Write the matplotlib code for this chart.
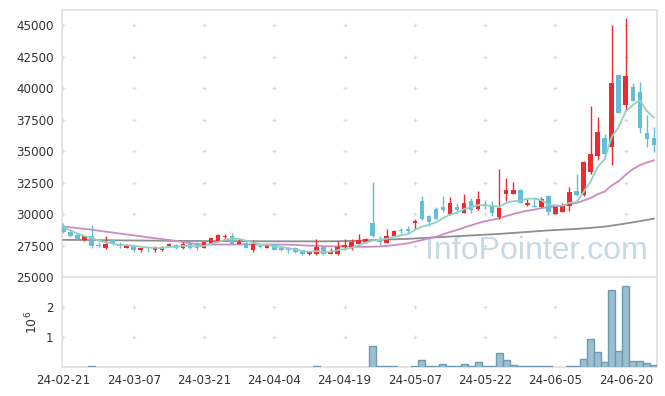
import matplotlib
matplotlib.use("Agg")
import matplotlib.pyplot as plt
import numpy as np
import pandas as pd

# trading days (KRX holidays skipped)
holidays = ["2024-03-01", "2024-04-10", "2024-05-01", "2024-05-06",
            "2024-05-15", "2024-06-06"]
dates = pd.bdate_range("2024-02-21", "2024-06-26", freq="C", holidays=holidays)

opens = [29050, 28575, 28340, 27900, 28235, 27540, 27280, 27920, 27650, 27330,
         27490, 27120, 27330, 27120, 27120, 27440, 27540, 27280, 27650, 27600,
         27330, 27650, 27860, 28180, 28280, 27650, 27700, 27120, 27490, 27330,
         27600, 27330, 27280, 27330, 27120, 26800, 26790, 27360, 26850, 26790,
         27410, 27380, 27620, 27780, 29310, 28000, 27730, 28230, 28730, 28790,
         29270, 31060, 29850, 30380, 30590, 30030, 30590, 30110, 31020, 30430,
         30750, 30700, 29790, 31600, 31600, 31910, 30700, 30640, 30590, 31440,
         30030, 30190, 30640, 31860, 31540, 33350, 34620, 36050, 35350, 41030,
         38690, 40070, 39700, 36420, 36050]
closes = [28540, 28260, 28020, 28235, 27490, 27440, 27600, 27600, 27490, 27540,
          27120, 27280, 27280, 27380, 27380, 27650, 27280, 27650, 27330, 27330,
          27760, 28080, 28340, 28280, 27650, 27810, 27330, 27650, 27380, 27600,
          27170, 27120, 27170, 26960, 26800, 27010, 27360, 26830, 27010, 27420,
          27520, 27780, 27940, 28000, 28220, 27760, 28260, 28680, 28630, 28680,
          29430, 29590, 29370, 29630, 30320, 30840, 30320, 30840, 30350, 31220,
          30700, 30110, 30480, 31910, 31910, 30900, 30860, 30590, 31220, 30170,
          30590, 30700, 31750, 31540, 34140, 34770, 36520, 34770, 40390, 38060,
          40970, 39010, 36840, 35990, 35510]
highs = [29290, 28695, 28420, 28260, 29150, 27760, 28230, 27960, 27760, 27600,
         27540, 27300, 27380, 27440, 27490, 27700, 27600, 27760, 27760, 27760,
         27780, 28100, 28380, 28440, 28500, 28020, 27920, 27920, 27650, 27650,
         27620, 27360, 27380, 27380, 27150, 27040, 28000, 27380, 27330, 27860,
         28000, 28040, 28420, 28100, 32550, 28260, 28790, 28700, 28890, 29050,
         29630, 31440, 29900, 30590, 31440, 31330, 30860, 31600, 31280, 31810,
         31120, 31020, 33560, 32870, 32550, 31970, 31220, 31280, 31330, 31490,
         30640, 30900, 32180, 33190, 34190, 38590, 37740, 36360, 45000, 41130,
         45530, 40400, 40500, 37850, 36940]
lows = [28500, 28180, 27900, 27860, 27280, 27380, 27220, 27540, 27280, 27280,
        26960, 27010, 27010, 26960, 27070, 27380, 27220, 27220, 27220, 27170,
        27300, 27620, 27840, 27960, 27620, 27620, 27300, 27010, 27280, 27280,
        27150, 27090, 26910, 26910, 26770, 26770, 26770, 26750, 26830, 26750,
        27150, 27150, 27580, 27700, 28180, 27520, 27700, 28220, 28470, 28520,
        28840, 29530, 29050, 29610, 30140, 29900, 30110, 30060, 30060, 30320,
        30430, 29850, 29590, 31060, 31560, 30880, 30670, 30590, 30540, 29950,
        30010, 30160, 30250, 31430, 31430, 33190, 34300, 34460, 33880, 38030,
        38270, 38950, 36420, 35350, 34930]
volumes = [0, 0, 0, 0, 20000, 0, 0, 0, 0, 0,
           0, 0, 0, 0, 0, 0, 0, 0, 0, 0,
           0, 0, 0, 0, 0, 0, 0, 0, 0, 0,
           0, 0, 0, 0, 0, 0, 20000, 0, 0, 0,
           0, 0, 0, 0, 690000, 20000, 20000, 20000, 0, 0,
           20000, 220000, 20000, 50000, 110000, 50000, 20000, 110000, 50000, 160000,
           20000, 20000, 460000, 220000, 80000, 20000, 20000, 20000, 20000, 20000,
           0, 0, 20000, 20000, 260000, 950000, 490000, 160000, 2580000, 520000,
           2690000, 190000, 190000, 120000, 60000]

ma5 = [28950, 28700, 28450, 28250, 28109, 27889, 27757, 27673, 27524, 27534,
       27470, 27406, 27342, 27320, 27288, 27394, 27394, 27468, 27458, 27448,
       27470, 27630, 27768, 27958, 28022, 28032, 27882, 27744, 27564, 27554,
       27426, 27384, 27288, 27204, 27044, 27012, 27060, 26992, 27002, 27126,
       27228, 27312, 27534, 27732, 27892, 27940, 28036, 28184, 28310, 28402,
       28736, 29002, 29140, 29340, 29668, 29950, 30096, 30390, 30534, 30714,
       30686, 30644, 30572, 30884, 31022, 31062, 31212, 31234, 31096, 30748,
       30686, 30654, 30886, 30950, 31744, 32580, 33744, 34348, 36118, 36902,
       38142, 38640, 39054, 38174, 37664]
ma20 = [29000, 28950, 28880, 28820, 28760, 28680, 28600, 28530, 28450, 28380,
        28310, 28230, 28150, 28080, 28010, 27940, 27860, 27780, 27690, 27620,
        27590, 27580, 27580, 27580, 27580, 27590, 27580, 27580, 27575, 27578,
        27581, 27573, 27567, 27546, 27517, 27485, 27489, 27448, 27432, 27437,
        27425, 27410, 27400, 27390, 27410, 27420, 27470, 27530, 27600, 27670,
        27800, 27930, 28060, 28200, 28380, 28570, 28730, 28930, 29100, 29280,
        29430, 29540, 29660, 29840, 30000, 30140, 30260, 30350, 30470, 30540,
        30600, 30660, 30780, 30880, 31070, 31270, 31580, 31780, 32270, 32610,
        33120, 33560, 33880, 34090, 34270]
ma60 = [27950, 27945, 27940, 27935, 27930, 27925, 27920, 27915, 27910, 27905,
        27900, 27895, 27890, 27885, 27880, 27875, 27870, 27865, 27860, 27858,
        27855, 27852, 27850, 27848, 27846, 27844, 27842, 27840, 27838, 27836,
        27835, 27834, 27833, 27832, 27831, 27830, 27830, 27832, 27835, 27840,
        27850, 27865, 27880, 27900, 27930, 27950, 27970, 27990, 28010, 28030,
        28060, 28090, 28120, 28150, 28180, 28210, 28240, 28270, 28300, 28330,
        28360, 28390, 28420, 28460, 28500, 28540, 28580, 28620, 28660, 28700,
        28730, 28760, 28790, 28820, 28860, 28900, 28950, 29000, 29080, 29160,
        29250, 29340, 29430, 29530, 29630]

price_ticks = [25000, 27500, 30000, 32500, 35000, 37500, 40000, 42500, 45000]
vol_ticks = [1, 2]

UP = "#ec2b30"
DOWN = "#66bdd8"
GRID = "#dcdcdc"
SPINE = "#e4e4e4"
TEXT = "#333333"

plt.rcParams["font.family"] = ["DejaVu Sans"]

o = np.array(opens, dtype=float)
c = np.array(closes, dtype=float)
h = np.array(highs, dtype=float)
l = np.array(lows, dtype=float)
v = np.array(volumes, dtype=float) / 1e6
x = np.arange(len(dates))
up = c >= o
colors = np.where(up, UP, DOWN)

fig = plt.figure(figsize=(6.65, 3.96), dpi=100)
ax = fig.add_axes([62 / 665, 1 - 277 / 396, 595 / 665, 267 / 396])
axv = fig.add_axes([62 / 665, 1 - 367 / 396, 595 / 665, 90 / 396], sharex=ax)

tick_idx = x[::10]

# grid crosses
gx, gy = np.meshgrid(tick_idx, price_ticks)
ax.scatter(gx.ravel(), gy.ravel(), marker="+", s=12, c=GRID, lw=0.8, zorder=0)
gx, gy = np.meshgrid(tick_idx, vol_ticks)
axv.scatter(gx.ravel(), gy.ravel(), marker="+", s=12, c=GRID, lw=0.8, zorder=0)

# moving averages
ax.plot(x, ma60, color="#8e8e8e", lw=1.3, zorder=2)
ax.plot(x, ma20, color="#cc8ac6", lw=1.3, zorder=2)
ax.plot(x, ma5, color="#92d0c2", lw=1.3, zorder=4)

# candles
ax.vlines(x, l, h, colors=colors, lw=1.0, zorder=3)
body = np.maximum(np.abs(c - o), 80)
ax.bar(x, body, bottom=np.minimum(o, c), width=0.64, color=colors,
       lw=0, zorder=3)

ax.text(0.985, 0.04, "InfoPointer.com", transform=ax.transAxes,
        ha="right", va="bottom", fontsize=23, color="#c6d9e4",
        family=["Liberation Sans", "DejaVu Sans"], zorder=1)

# volume
mask = v > 0
axv.bar(x[mask], v[mask], width=1.0, color="#9bbfd0", edgecolor="#6f9bb2",
        lw=1.0, zorder=3)

ax.set_xlim(-0.2, 84.45)
ax.set_ylim(25000, 46200)
axv.set_ylim(0, 3.0)

ax.set_yticks(price_ticks)
ax.set_yticklabels([str(t) for t in price_ticks])
axv.set_yticks(vol_ticks)
axv.set_yticklabels([str(t) for t in vol_ticks])
axv.set_xticks(tick_idx)
axv.set_xticklabels([d.strftime("%y-%m-%d") for d in dates[::10]])
axv.set_ylabel(r"$10^6$", color=TEXT, fontsize=9, labelpad=4)

for a in (ax, axv):
    a.tick_params(length=0, labelsize=8.6, labelcolor=TEXT, pad=6)
    for s in a.spines.values():
        s.set_color(SPINE)
        s.set_linewidth(1.4)
        s.set_zorder(1)
ax.tick_params(labelbottom=False)
axv.tick_params(axis="x", pad=5)

fig.savefig("out.png", dpi=100)
